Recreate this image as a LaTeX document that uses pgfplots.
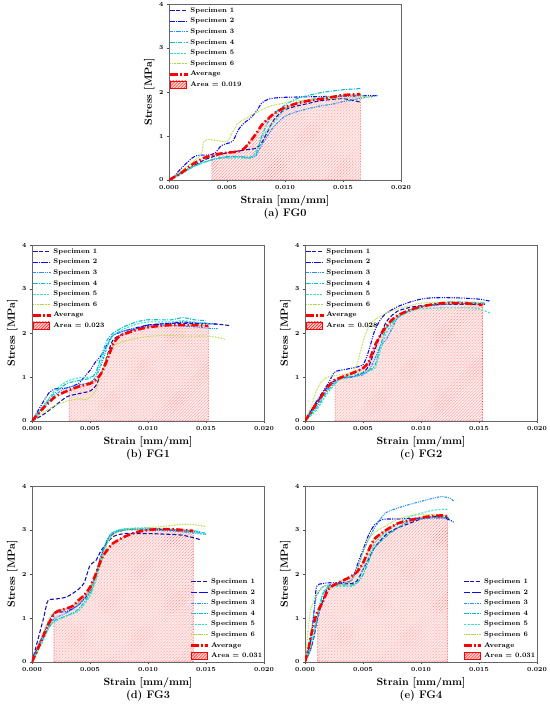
\documentclass[border=0pt]{standalone}
\usepackage{pgfplots}
\pgfplotsset{compat=1.18}
\usetikzlibrary{patterns}
\definecolor{cA}{RGB}{20,20,175}
\definecolor{cB}{RGB}{10,10,245}
\definecolor{cC}{RGB}{30,144,255}
\definecolor{cD}{RGB}{0,195,210}
\definecolor{cE}{RGB}{50,230,200}
\definecolor{cF}{RGB}{175,220,60}
\pgfplotsset{
  sA/.style={color=cA, line width=1.1pt, smooth, tension=0.4, dash pattern=on 4pt off 2pt},
  sB/.style={color=cB, line width=1.1pt, smooth, tension=0.4, dash pattern=on 4pt off 1.3pt on 1pt off 1.3pt on 1pt off 1.3pt},
  sC/.style={color=cC, line width=1.1pt, smooth, tension=0.4, dash pattern=on 2.4pt off 1.1pt on 1pt off 1.1pt on 1pt off 1.1pt},
  sD/.style={color=cD, line width=1.1pt, smooth, tension=0.4, dash pattern=on 4pt off 1.4pt on 1pt off 1.4pt},
  sE/.style={color=cE, line width=1.1pt, smooth, tension=0.4, dash pattern=on 2pt off 1.5pt},
  sF/.style={color=cF, line width=1.1pt, smooth, tension=0.4, dash pattern=on 0.7pt off 0.9pt},
  sAvg/.style={color=red, line width=2.6pt, smooth, tension=0.4, dash pattern=on 7pt off 2.5pt on 1.5pt off 2.5pt},
  sAreaBg/.style={draw=none, fill=red!7, smooth, tension=0.4, forget plot},
  sArea/.style={draw=red!85, line width=0.6pt, densely dotted, smooth, tension=0.4, pattern=north east lines, pattern color=red!65, forget plot},
  areaimg/.style={legend image code/.code={\fill[red!15] (0pt,-3pt) rectangle (16pt,4pt); \draw[red, line width=0.6pt, pattern=north east lines, pattern color=red] (0pt,-3pt) rectangle (16pt,4pt);}},
  fgaxis/.style={
    scale only axis, width=232bp, height=176bp,
    xmin=0, xmax=0.02, ymin=0, ymax=4,
    xtick={0,0.005,0.01,0.015,0.02},
    xticklabels={0.000,0.005,0.010,0.015,0.020},
    ytick={0,1,2,3,4},
    scaled x ticks=false,
    tick align=outside, xtick pos=bottom, ytick pos=left,
    major tick length=2pt,
    tick style={black!70, line width=0.4pt},
    axis line style={black!60, line width=0.6pt},
    /pgf/number format/assume math mode=true,
    ticklabel style={font=\bfseries\fontsize{6.2}{7}\selectfont},
    xlabel={Strain [mm/mm]}, ylabel={Stress [MPa]},
    label style={font=\bfseries\fontsize{10.5}{12}\selectfont},
    xlabel style={at={(axis description cs:0.5,-0.116)}, anchor=center},
    ylabel style={at={(axis description cs:-0.085,0.5)}, anchor=center},
    title style={at={(axis description cs:0.5,-0.228)}, anchor=center, font=\bfseries\fontsize{11}{13}\selectfont},
    legend cell align=left,
    legend style={draw=none, fill=none, inner sep=0pt, row sep=1.2pt,
      font=\bfseries\fontsize{6.8}{7.5}\selectfont, nodes={inner sep=1.6pt}},
  },
}
\begin{document}
\begin{tikzpicture}
\useasboundingbox (0,0) rectangle (550bp,711bp);

% ---------------- (a) FG0
\pgfplotstableread{
x y
0.0037 0.56
0.004 0.58
0.005 0.62
0.006 0.65
0.0065 0.72
0.007 0.88
0.0075 1.05
0.008 1.25
0.0085 1.38
0.009 1.5
0.010 1.65
0.011 1.74
0.012 1.8
0.013 1.84
0.014 1.88
0.015 1.93
0.0165 1.95
}\areaA
\begin{axis}[fgaxis, at={(169bp,531bp)}, anchor=south west, title={(a) FG0},
  legend style={at={(0.0,0.99)}, anchor=north west}]
\addplot[sAreaBg] table {\areaA} \closedcycle;
\addplot[sArea] table {\areaA} \closedcycle;
\addplot[sA] coordinates {(0,0) (0.001,0.15) (0.002,0.3) (0.003,0.45) (0.004,0.55) (0.005,0.62) (0.006,0.66) (0.007,0.7) (0.0075,0.72) (0.008,0.85) (0.0085,1.1) (0.009,1.35) (0.0095,1.5) (0.010,1.6) (0.011,1.68) (0.012,1.74) (0.013,1.8) (0.014,1.83) (0.015,1.85) (0.016,1.8) (0.0165,1.77)};
\addlegendentry{Specimen 1}
\addplot[sB] coordinates {(0.0002,0) (0.001,0.25) (0.002,0.5) (0.0025,0.56) (0.0035,0.57) (0.004,0.62) (0.0045,0.78) (0.005,0.83) (0.0055,0.88) (0.006,1.15) (0.0065,1.3) (0.007,1.4) (0.0075,1.55) (0.008,1.75) (0.0085,1.83) (0.009,1.86) (0.010,1.88) (0.012,1.89) (0.014,1.9) (0.016,1.91) (0.018,1.92)};
\addlegendentry{Specimen 2}
\addplot[sC] coordinates {(0,0) (0.001,0.15) (0.002,0.3) (0.003,0.4) (0.004,0.48) (0.005,0.52) (0.006,0.53) (0.007,0.5) (0.0075,0.55) (0.008,0.8) (0.009,1.2) (0.010,1.45) (0.011,1.55) (0.012,1.62) (0.013,1.68) (0.014,1.72) (0.015,1.78) (0.016,1.83) (0.017,1.88) (0.018,1.92)};
\addlegendentry{Specimen 3}
\addplot[sD] coordinates {(0,0) (0.001,0.15) (0.002,0.3) (0.003,0.4) (0.004,0.48) (0.005,0.53) (0.006,0.53) (0.007,0.52) (0.0075,0.6) (0.008,1.0) (0.0085,1.3) (0.009,1.5) (0.010,1.7) (0.011,1.85) (0.012,1.92) (0.013,1.98) (0.014,2.02) (0.015,2.05) (0.016,2.07) (0.0165,2.08)};
\addlegendentry{Specimen 4}
\addplot[sE] coordinates {(0,0) (0.001,0.12) (0.002,0.28) (0.003,0.4) (0.004,0.48) (0.005,0.5) (0.006,0.5) (0.007,0.5) (0.0075,0.65) (0.008,0.95) (0.009,1.3) (0.010,1.6) (0.011,1.75) (0.012,1.82) (0.013,1.87) (0.014,1.9) (0.015,1.92) (0.016,1.93) (0.017,1.9)};
\addlegendentry{Specimen 5}
\addplot[sF] coordinates {(0,0) (0.001,0.2) (0.002,0.4) (0.0028,0.6) (0.003,0.88) (0.0035,0.92) (0.004,0.9) (0.005,0.88) (0.0055,1.1) (0.006,1.3) (0.007,1.45) (0.008,1.6) (0.009,1.7) (0.010,1.75) (0.011,1.8) (0.012,1.82) (0.014,1.85) (0.016,1.87) (0.0175,1.88)};
\addlegendentry{Specimen 6}
\addplot[sAvg] coordinates {(0,0) (0.001,0.15) (0.002,0.35) (0.003,0.5) (0.004,0.58) (0.005,0.62) (0.006,0.65) (0.0065,0.72) (0.007,0.88) (0.0075,1.05) (0.008,1.25) (0.0085,1.38) (0.009,1.5) (0.010,1.65) (0.011,1.74) (0.012,1.8) (0.013,1.84) (0.014,1.88) (0.015,1.93) (0.0165,1.95)};
\addlegendentry{Average}
\addlegendimage{areaimg}
\addlegendentry{Area = 0.019}
\end{axis}

% ---------------- (b) FG1
\pgfplotstableread{
x y
0.0032 0.7
0.004 0.78
0.005 0.85
0.0055 0.93
0.006 1.1
0.0065 1.4
0.007 1.75
0.0075 1.92
0.008 1.98
0.009 2.07
0.010 2.13
0.011 2.16
0.012 2.18
0.013 2.18
0.014 2.18
0.0152 2.16
}\areaB
\begin{axis}[fgaxis, at={(32bp,290bp)}, anchor=south west, title={(b) FG1},
  legend style={at={(0.0,0.99)}, anchor=north west}]
\addplot[sAreaBg] table {\areaB} \closedcycle;
\addplot[sArea] table {\areaB} \closedcycle;
\addplot[sA] coordinates {(0,0) (0.001,0.15) (0.002,0.35) (0.003,0.55) (0.004,0.62) (0.005,0.68) (0.0055,0.8) (0.006,1.1) (0.0065,1.5) (0.007,1.85) (0.008,2.0) (0.009,2.1) (0.010,2.18) (0.012,2.22) (0.014,2.22) (0.016,2.2) (0.017,2.17)};
\addlegendentry{Specimen 1}
\addplot[sB] coordinates {(0,0) (0.001,0.45) (0.0015,0.65) (0.002,0.73) (0.003,0.75) (0.004,0.85) (0.0045,1.0) (0.005,1.15) (0.0055,1.35) (0.006,1.5) (0.0065,1.75) (0.007,1.95) (0.008,2.05) (0.009,2.12) (0.010,2.18) (0.012,2.22) (0.013,2.25) (0.014,2.23) (0.015,2.22) (0.016,2.2)};
\addlegendentry{Specimen 2}
\addplot[sC] coordinates {(0,0) (0.001,0.3) (0.002,0.6) (0.003,0.75) (0.004,0.82) (0.005,0.88) (0.0055,1.0) (0.006,1.3) (0.0065,1.7) (0.007,1.95) (0.008,2.05) (0.009,2.1) (0.010,2.15) (0.012,2.17) (0.014,2.14) (0.0155,2.1) (0.016,2.1)};
\addlegendentry{Specimen 3}
\addplot[sD] coordinates {(0,0) (0.001,0.35) (0.002,0.65) (0.003,0.85) (0.004,0.92) (0.005,0.97) (0.0055,1.1) (0.006,1.5) (0.0065,1.85) (0.007,2.0) (0.008,2.15) (0.009,2.25) (0.010,2.3) (0.012,2.3) (0.013,2.35) (0.014,2.3) (0.015,2.28)};
\addlegendentry{Specimen 4}
\addplot[sE] coordinates {(0,0) (0.001,0.35) (0.002,0.7) (0.003,0.9) (0.004,0.98) (0.005,1.0) (0.0055,1.05) (0.006,1.4) (0.0065,1.75) (0.007,1.95) (0.008,2.1) (0.009,2.2) (0.010,2.25) (0.012,2.25) (0.013,2.28) (0.014,2.25) (0.015,2.22) (0.0155,2.2)};
\addlegendentry{Specimen 5}
\addplot[sF] coordinates {(0,0) (0.001,0.2) (0.002,0.35) (0.003,0.45) (0.004,0.5) (0.0048,0.5) (0.0055,0.7) (0.006,1.1) (0.0065,1.5) (0.007,1.7) (0.008,1.82) (0.009,1.88) (0.010,1.92) (0.011,1.94) (0.012,1.94) (0.013,1.93) (0.014,1.93) (0.015,1.93) (0.016,1.9) (0.0167,1.85)};
\addlegendentry{Specimen 6}
\addplot[sAvg] coordinates {(0,0) (0.001,0.3) (0.002,0.55) (0.003,0.68) (0.004,0.78) (0.005,0.85) (0.0055,0.93) (0.006,1.1) (0.0065,1.4) (0.007,1.75) (0.0075,1.92) (0.008,1.98) (0.009,2.07) (0.010,2.13) (0.011,2.16) (0.012,2.18) (0.013,2.18) (0.014,2.18) (0.0152,2.16)};
\addlegendentry{Average}
\addlegendimage{areaimg}
\addlegendentry{Area = 0.023}
\end{axis}

% ---------------- (c) FG2
\pgfplotstableread{
x y
0.0026 0.93
0.003 0.98
0.004 1.08
0.005 1.2
0.0055 1.35
0.006 1.7
0.0065 1.95
0.007 2.15
0.0075 2.3
0.008 2.4
0.009 2.52
0.010 2.6
0.011 2.65
0.012 2.68
0.013 2.68
0.014 2.67
0.015 2.65
0.0153 2.63
}\areaC
\begin{axis}[fgaxis, at={(305bp,290bp)}, anchor=south west, title={(c) FG2},
  legend style={at={(0.0,0.99)}, anchor=north west}]
\addplot[sAreaBg] table {\areaC} \closedcycle;
\addplot[sArea] table {\areaC} \closedcycle;
\addplot[sA] coordinates {(0,0) (0.001,0.4) (0.002,0.8) (0.003,0.98) (0.004,1.0) (0.005,1.1) (0.0055,1.25) (0.006,1.6) (0.0065,1.95) (0.007,2.25) (0.0075,2.4) (0.008,2.5) (0.009,2.58) (0.010,2.62) (0.012,2.65) (0.014,2.65) (0.0155,2.65)};
\addlegendentry{Specimen 1}
\addplot[sB] coordinates {(0,0) (0.001,0.45) (0.002,0.85) (0.0025,1.1) (0.003,1.15) (0.004,1.2) (0.005,1.28) (0.0055,1.6) (0.006,2.05) (0.0065,2.3) (0.007,2.45) (0.008,2.6) (0.009,2.7) (0.010,2.77) (0.011,2.8) (0.013,2.8) (0.015,2.77) (0.016,2.72)};
\addlegendentry{Specimen 2}
\addplot[sC] coordinates {(0,0) (0.001,0.35) (0.002,0.75) (0.003,0.95) (0.004,1.0) (0.005,1.05) (0.0055,1.15) (0.006,1.4) (0.0065,1.7) (0.007,1.85) (0.0075,2.1) (0.008,2.35) (0.009,2.52) (0.010,2.6) (0.012,2.65) (0.014,2.67) (0.0155,2.67)};
\addlegendentry{Specimen 3}
\addplot[sD] coordinates {(0,0) (0.001,0.3) (0.002,0.7) (0.003,0.95) (0.004,1.0) (0.005,1.08) (0.006,1.25) (0.0065,1.7) (0.007,2.1) (0.008,2.35) (0.009,2.5) (0.010,2.6) (0.012,2.7) (0.014,2.7) (0.0155,2.68)};
\addlegendentry{Specimen 4}
\addplot[sE] coordinates {(0,0) (0.001,0.25) (0.002,0.65) (0.003,0.95) (0.004,1.05) (0.005,1.1) (0.006,1.2) (0.0065,1.6) (0.007,2.0) (0.008,2.35) (0.009,2.48) (0.010,2.55) (0.012,2.57) (0.014,2.57) (0.015,2.55) (0.016,2.45)};
\addlegendentry{Specimen 5}
\addplot[sF] coordinates {(0,0) (0.0005,0.3) (0.001,0.7) (0.0015,0.92) (0.002,1.0) (0.003,1.05) (0.004,1.1) (0.0045,1.3) (0.005,1.8) (0.0055,2.15) (0.006,2.3) (0.007,2.45) (0.008,2.55) (0.009,2.62) (0.010,2.68) (0.012,2.7) (0.014,2.7) (0.0155,2.7)};
\addlegendentry{Specimen 6}
\addplot[sAvg] coordinates {(0,0) (0.001,0.4) (0.002,0.78) (0.0025,0.92) (0.003,0.98) (0.004,1.08) (0.005,1.2) (0.0055,1.35) (0.006,1.7) (0.0065,1.95) (0.007,2.15) (0.0075,2.3) (0.008,2.4) (0.009,2.52) (0.010,2.6) (0.011,2.65) (0.012,2.68) (0.013,2.68) (0.014,2.67) (0.015,2.65) (0.0153,2.63)};
\addlegendentry{Average}
\addlegendimage{areaimg}
\addlegendentry{Area = 0.028}
\end{axis}

% ---------------- (d) FG3
\pgfplotstableread{
x y
0.0019 1.1
0.002 1.12
0.0025 1.18
0.003 1.22
0.0035 1.27
0.004 1.4
0.0045 1.52
0.005 1.7
0.0055 2.0
0.006 2.35
0.0065 2.55
0.007 2.7
0.008 2.85
0.009 2.95
0.010 3.0
0.011 3.02
0.012 3.02
0.013 3.0
0.0139 2.98
}\areaD
\begin{axis}[fgaxis, at={(32bp,49bp)}, anchor=south west, title={(d) FG3},
  legend style={at={(1.0,0.005)}, anchor=south east}]
\addplot[sAreaBg] table {\areaD} \closedcycle;
\addplot[sArea] table {\areaD} \closedcycle;
\addplot[sA] coordinates {(0,0) (0.0005,0.5) (0.001,1.0) (0.0013,1.35) (0.0015,1.42) (0.002,1.43) (0.003,1.48) (0.004,1.65) (0.0045,1.8) (0.005,2.2) (0.0055,2.3) (0.006,2.55) (0.007,2.85) (0.008,2.92) (0.009,2.92) (0.010,2.92) (0.012,2.9) (0.013,2.88) (0.014,2.82) (0.0145,2.78)};
\addlegendentry{Specimen 1}
\addplot[sB] coordinates {(0,0) (0.0005,0.35) (0.001,0.65) (0.0015,0.95) (0.002,1.12) (0.003,1.15) (0.004,1.3) (0.005,1.6) (0.0055,2.0) (0.006,2.45) (0.0065,2.75) (0.007,2.92) (0.008,3.0) (0.009,3.02) (0.010,3.02) (0.012,3.0) (0.013,2.98) (0.0145,2.95)};
\addlegendentry{Specimen 2}
\addplot[sC] coordinates {(0,0) (0.0005,0.3) (0.001,0.6) (0.0015,0.85) (0.002,1.0) (0.003,1.12) (0.004,1.3) (0.005,1.65) (0.0055,2.0) (0.006,2.45) (0.0065,2.8) (0.007,2.95) (0.008,3.0) (0.010,3.0) (0.012,2.98) (0.014,2.93) (0.015,2.9)};
\addlegendentry{Specimen 3}
\addplot[sD] coordinates {(0,0) (0.0005,0.25) (0.001,0.55) (0.0015,0.8) (0.002,0.95) (0.003,1.05) (0.004,1.2) (0.005,1.55) (0.0055,1.9) (0.006,2.4) (0.0065,2.75) (0.007,2.95) (0.008,3.02) (0.010,3.03) (0.012,3.02) (0.014,2.98) (0.015,2.92)};
\addlegendentry{Specimen 4}
\addplot[sE] coordinates {(0,0) (0.0005,0.25) (0.001,0.5) (0.0015,0.8) (0.002,0.92) (0.003,1.05) (0.004,1.15) (0.005,1.5) (0.0055,1.85) (0.006,2.3) (0.0065,2.7) (0.007,2.95) (0.008,3.03) (0.010,3.05) (0.012,3.0) (0.014,2.95) (0.015,2.9)};
\addlegendentry{Specimen 5}
\addplot[sF] coordinates {(0,0) (0.0005,0.35) (0.001,0.7) (0.0015,1.0) (0.002,1.15) (0.003,1.2) (0.004,1.35) (0.005,1.6) (0.0055,1.95) (0.006,2.4) (0.0065,2.7) (0.007,2.9) (0.008,3.0) (0.010,3.05) (0.012,3.1) (0.013,3.13) (0.014,3.12) (0.015,3.08)};
\addlegendentry{Specimen 6}
\addplot[sAvg] coordinates {(0,0) (0.0005,0.3) (0.001,0.6) (0.0015,0.9) (0.002,1.12) (0.0025,1.18) (0.003,1.22) (0.0035,1.27) (0.004,1.4) (0.0045,1.52) (0.005,1.7) (0.0055,2.0) (0.006,2.35) (0.0065,2.55) (0.007,2.7) (0.008,2.85) (0.009,2.95) (0.010,3.0) (0.011,3.02) (0.012,3.02) (0.013,3.0) (0.0139,2.98)};
\addlegendentry{Average}
\addlegendimage{areaimg}
\addlegendentry{Area = 0.031}
\end{axis}

% ---------------- (e) FG4
\pgfplotstableread{
x y
0.0011 1.15
0.0015 1.35
0.002 1.65
0.0025 1.75
0.003 1.82
0.0035 1.88
0.004 1.95
0.0045 2.05
0.005 2.25
0.0055 2.55
0.006 2.8
0.007 3.0
0.008 3.15
0.009 3.22
0.010 3.28
0.011 3.32
0.012 3.33
0.0123 3.3
}\areaE
\begin{axis}[fgaxis, at={(305bp,49bp)}, anchor=south west, title={(e) FG4},
  legend style={at={(1.0,0.005)}, anchor=south east}]
\addplot[sAreaBg] table {\areaE} \closedcycle;
\addplot[sArea] table {\areaE} \closedcycle;
\addplot[sA] coordinates {(0,0) (0.0005,0.3) (0.0008,0.6) (0.001,0.9) (0.0013,1.2) (0.0018,1.6) (0.002,1.72) (0.003,1.78) (0.004,1.78) (0.0045,1.85) (0.005,2.1) (0.0055,2.35) (0.006,2.6) (0.007,2.9) (0.008,3.05) (0.009,3.15) (0.010,3.25) (0.011,3.3) (0.012,3.3) (0.0125,3.25)};
\addlegendentry{Specimen 1}
\addplot[sB] coordinates {(0,0) (0.0005,0.5) (0.0008,1.2) (0.001,1.72) (0.0015,1.78) (0.002,1.8) (0.003,1.8) (0.004,1.85) (0.0045,2.2) (0.005,2.55) (0.0055,2.9) (0.006,3.12) (0.0065,3.22) (0.007,3.25) (0.008,3.25) (0.010,3.27) (0.012,3.27) (0.0128,3.18)};
\addlegendentry{Specimen 2}
\addplot[sC] coordinates {(0,0) (0.0005,0.6) (0.0008,1.2) (0.001,1.5) (0.0015,1.7) (0.002,1.75) (0.003,1.78) (0.004,1.85) (0.0045,2.1) (0.005,2.5) (0.0055,2.8) (0.006,3.05) (0.0065,3.25) (0.007,3.4) (0.008,3.5) (0.009,3.58) (0.010,3.65) (0.011,3.72) (0.0118,3.76) (0.0125,3.72) (0.0128,3.66)};
\addlegendentry{Specimen 3}
\addplot[sD] coordinates {(0,0) (0.0005,0.3) (0.001,0.9) (0.0015,1.5) (0.002,1.7) (0.003,1.75) (0.004,1.75) (0.0045,1.8) (0.005,1.98) (0.0055,2.3) (0.006,2.6) (0.007,2.85) (0.008,3.05) (0.009,3.2) (0.010,3.25) (0.011,3.28) (0.012,3.28) (0.0125,3.25)};
\addlegendentry{Specimen 4}
\addplot[sE] coordinates {(0,0) (0.0005,0.4) (0.001,1.0) (0.0015,1.55) (0.002,1.7) (0.003,1.72) (0.004,1.72) (0.0045,1.8) (0.005,2.1) (0.0055,2.4) (0.006,2.7) (0.007,2.95) (0.008,3.15) (0.009,3.3) (0.010,3.38) (0.011,3.45) (0.012,3.47) (0.0123,3.47)};
\addlegendentry{Specimen 5}
\addplot[sF] coordinates {(0,0) (0.0003,0.8) (0.0005,1.2) (0.0008,1.4) (0.001,1.55) (0.0015,1.7) (0.002,1.72) (0.003,1.75) (0.004,1.85) (0.0045,2.1) (0.005,2.5) (0.0055,2.8) (0.006,2.95) (0.007,3.1) (0.008,3.25) (0.009,3.32) (0.010,3.35) (0.011,3.35) (0.012,3.35)};
\addlegendentry{Specimen 6}
\addplot[sAvg] coordinates {(0,0) (0.0003,0.3) (0.0006,0.7) (0.001,1.1) (0.0015,1.35) (0.002,1.65) (0.0025,1.75) (0.003,1.82) (0.0035,1.88) (0.004,1.95) (0.0045,2.05) (0.005,2.25) (0.0055,2.55) (0.006,2.8) (0.007,3.0) (0.008,3.15) (0.009,3.22) (0.010,3.28) (0.011,3.32) (0.012,3.33) (0.0123,3.3)};
\addlegendentry{Average}
\addlegendimage{areaimg}
\addlegendentry{Area = 0.031}
\end{axis}
\end{tikzpicture}
\end{document}
